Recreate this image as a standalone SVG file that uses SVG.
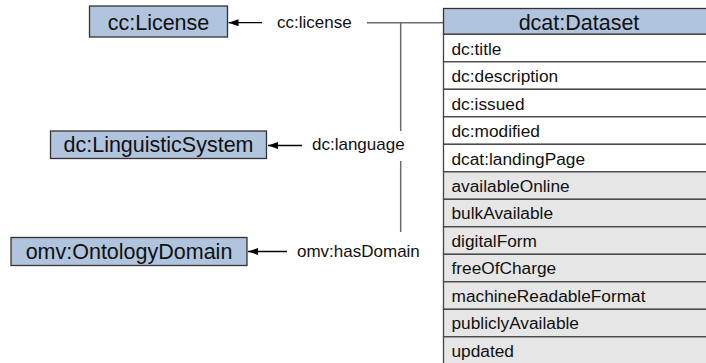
<svg xmlns="http://www.w3.org/2000/svg" width="706" height="363" viewBox="0 0 706 363">
  <style>
    .node { fill: #b0c4de; stroke: #333; stroke-width: 1.3; }
    .nlabel { font-family: "Liberation Sans", Arial, sans-serif; font-size: 21.5px; fill: #111; text-anchor: middle; }
    .row { stroke: #444; stroke-width: 1.3; }
    .white { fill: #ffffff; }
    .gray { fill: #e6e6e6; }
    .rtext { font-family: "Liberation Sans", Arial, sans-serif; font-size: 17.3px; fill: #111; }
    .elabel { font-family: "Liberation Sans", Arial, sans-serif; font-size: 17px; fill: #111; }
    .trunk { stroke: #6b6b6b; stroke-width: 1.5; fill: none; }
    .arrow { stroke: #000; stroke-width: 1.3; fill: none; }
  </style>
  <defs>
    <marker id="ah" markerUnits="userSpaceOnUse" markerWidth="11" markerHeight="8" refX="10" refY="3.5" orient="auto">
      <path d="M0,0 L10,3.5 L0,7 z" fill="#000"/>
    </marker>
  </defs>
  <rect width="706" height="363" fill="#ffffff"/>

  <g id="connectors">
    <line class="trunk" x1="443.5" y1="22.7" x2="367" y2="22.7"/>
    <line class="trunk" x1="400.7" y1="22.7" x2="400.7" y2="131"/>
    <line class="trunk" x1="400.7" y1="161" x2="400.7" y2="232"/>
    <g id="edge-license">
      <line class="arrow" x1="262" y1="22.7" x2="228.5" y2="22.7" marker-end="url(#ah)"/>
      <text class="elabel" x="277" y="27.5">cc:license</text>
    </g>
    <g id="edge-language">
      <line class="arrow" x1="302" y1="145.5" x2="268" y2="145.5" marker-end="url(#ah)"/>
      <text class="elabel" x="312" y="150">dc:language</text>
    </g>
    <g id="edge-domain">
      <line class="arrow" x1="287" y1="251.5" x2="248" y2="251.5" marker-end="url(#ah)"/>
      <text class="elabel" x="297" y="257">omv:hasDomain</text>
    </g>
  </g>

  <g id="node-license">
    <rect class="node" x="89.5" y="6" width="138" height="31"/>
    <text class="nlabel" x="158.5" y="30">cc:License</text>
  </g>
  <g id="node-linguistic">
    <rect class="node" x="50.5" y="131" width="216" height="27.5"/>
    <text class="nlabel" x="158.5" y="152">dc:LinguisticSystem</text>
  </g>
  <g id="node-domain">
    <rect class="node" x="11" y="237.5" width="236" height="28"/>
    <text class="nlabel" x="129" y="259">omv:OntologyDomain</text>
  </g>

  <g id="node-dataset">
    <rect class="node" x="443.5" y="8.5" width="272" height="25.8"/>
    <text class="nlabel" x="579" y="30">dcat:Dataset</text>
    <rect class="row white" x="443.5" y="34.3" width="272" height="27.5"/>
    <text class="rtext" x="451.5" y="54.8">dc:title</text>
    <rect class="row white" x="443.5" y="61.8" width="272" height="27.5"/>
    <text class="rtext" x="451.5" y="82.3">dc:description</text>
    <rect class="row white" x="443.5" y="89.3" width="272" height="27.5"/>
    <text class="rtext" x="451.5" y="109.8">dc:issued</text>
    <rect class="row white" x="443.5" y="116.8" width="272" height="27.5"/>
    <text class="rtext" x="451.5" y="137.3">dc:modified</text>
    <rect class="row white" x="443.5" y="144.3" width="272" height="27.5"/>
    <text class="rtext" x="451.5" y="164.8">dcat:landingPage</text>
    <rect class="row gray" x="443.5" y="171.8" width="272" height="27.5"/>
    <text class="rtext" x="451.5" y="191.5">availableOnline</text>
    <rect class="row gray" x="443.5" y="199.3" width="272" height="27.5"/>
    <text class="rtext" x="451.5" y="219">bulkAvailable</text>
    <rect class="row gray" x="443.5" y="226.8" width="272" height="27.5"/>
    <text class="rtext" x="451.5" y="246.5">digitalForm</text>
    <rect class="row gray" x="443.5" y="254.3" width="272" height="27.5"/>
    <text class="rtext" x="451.5" y="274">freeOfCharge</text>
    <rect class="row gray" x="443.5" y="281.8" width="272" height="27.5"/>
    <text class="rtext" x="451.5" y="301.5">machineReadableFormat</text>
    <rect class="row gray" x="443.5" y="309.3" width="272" height="27.5"/>
    <text class="rtext" x="451.5" y="329">publiclyAvailable</text>
    <rect class="row gray" x="443.5" y="336.8" width="272" height="27.5"/>
    <text class="rtext" x="451.5" y="356.5">updated</text>
  </g>
</svg>
